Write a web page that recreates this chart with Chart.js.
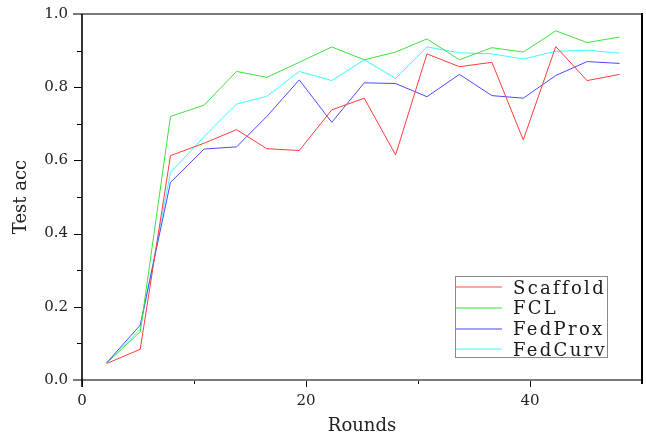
<!DOCTYPE html>
<html>
<head>
<meta charset="utf-8">
<script src="https://cdn.jsdelivr.net/npm/chart.js@4/dist/chart.umd.min.js"></script>
<style>
  html, body { margin: 0; padding: 0; background: #fff; }
  #wrap { position: relative; width: 646px; height: 435px; }
  #legend {
    position: absolute; left: 455px; top: 276px; width: 153px; height: 82px;
    border: 1.5px solid #8a8a8a; box-sizing: border-box; background: #fff;
    font-family: "DejaVu Serif", serif; font-size: 18px; letter-spacing: 2.3px; color: #1a1a1a;
  }
  .row { position: absolute; left: 0; height: 20px; display: flex; align-items: center; }
  .swatch { width: 46px; height: 2px; margin-right: 11px; }
</style>
</head>
<body>
<div id="wrap">
  <canvas id="c" width="646" height="435"></canvas>
  <div id="legend"></div>
</div>
<script>
// ---- data ----
const rounds   = [2.2, 5.2, 7.9, 10.9, 13.8, 16.5, 19.4, 22.3, 25.2, 28.0, 30.8, 33.7, 36.6, 39.4, 42.3, 45.1, 48.0];
const scaffold = [0.045, 0.084, 0.613, 0.647, 0.684, 0.632, 0.627, 0.738, 0.770, 0.615, 0.891, 0.856, 0.868, 0.656, 0.911, 0.818, 0.835];
const fcl      = [0.046, 0.132, 0.720, 0.751, 0.843, 0.827, 0.868, 0.910, 0.875, 0.896, 0.932, 0.875, 0.908, 0.896, 0.954, 0.922, 0.937];
const fedprox  = [0.047, 0.150, 0.540, 0.631, 0.637, 0.720, 0.820, 0.704, 0.812, 0.810, 0.774, 0.835, 0.777, 0.770, 0.832, 0.870, 0.865];
const fedcurv  = [0.046, 0.139, 0.567, 0.665, 0.754, 0.775, 0.843, 0.818, 0.875, 0.824, 0.910, 0.894, 0.891, 0.877, 0.898, 0.901, 0.893];
const seriesNames = ["Scaffold", "FCL", "FedProx", "FedCurv"];
const xTicks = [0, 20, 40];
const xMinorTicks = [10, 30];
const yTicks = [0, 0.2, 0.4, 0.6, 0.8, 1.0];
const yMinorTicks = [0.1, 0.3, 0.5, 0.7, 0.9];

const colors = ["#ff3c3c", "#3ee23e", "#4a4aff", "#3cffff"];
const legendColors = ["rgba(255,80,80,0.5)", "rgba(60,220,60,0.5)", "rgba(70,70,255,0.5)", "rgba(60,255,255,0.5)"];
const allSeries = [scaffold, fcl, fedprox, fedcurv];

const toPts = arr => arr.map((v, i) => ({ x: rounds[i], y: v }));

const framePlugin = {
  id: 'frame',
  afterDatasetsDraw(chart) {
    const { ctx, chartArea: a, scales } = chart;
    ctx.save();
    ctx.strokeStyle = '#000';
    ctx.lineWidth = 1;
    yTicks.forEach(v => {
      const y = Math.round(scales.y.getPixelForValue(v)) + 0.5;
      ctx.beginPath(); ctx.moveTo(a.left - 8, y); ctx.lineTo(a.left, y); ctx.stroke();
    });
    yMinorTicks.forEach(v => {
      const y = Math.round(scales.y.getPixelForValue(v)) + 0.5;
      ctx.beginPath(); ctx.moveTo(a.left - 5, y); ctx.lineTo(a.left, y); ctx.stroke();
    });
    xTicks.forEach(v => {
      const x = Math.round(scales.x.getPixelForValue(v)) + 0.5;
      ctx.beginPath(); ctx.moveTo(x, a.bottom); ctx.lineTo(x, a.bottom + 7); ctx.stroke();
    });
    xMinorTicks.forEach(v => {
      const x = Math.round(scales.x.getPixelForValue(v)) + 0.5;
      ctx.beginPath(); ctx.moveTo(x, a.bottom); ctx.lineTo(x, a.bottom + 4); ctx.stroke();
    });
    ctx.strokeStyle = '#7a7a7a';
    ctx.lineWidth = 2;
    ctx.beginPath(); ctx.moveTo(a.left - 9, a.top); ctx.lineTo(a.right + 1, a.top); ctx.stroke();
    ctx.beginPath(); ctx.moveTo(a.left - 9, a.bottom); ctx.lineTo(a.right + 1, a.bottom); ctx.stroke();
    ctx.strokeStyle = '#000';
    ctx.lineWidth = 1.6;
    ctx.beginPath(); ctx.moveTo(a.left, a.top); ctx.lineTo(a.left, a.bottom + 7); ctx.stroke();
    ctx.lineWidth = 2;
    ctx.beginPath(); ctx.moveTo(a.right, a.top - 1); ctx.lineTo(a.right, a.bottom + 4); ctx.stroke();
    ctx.restore();
  }
};

const chart = new Chart(document.getElementById('c'), {
  type: 'line',
  data: {
    datasets: allSeries.map((s, i) => ({
      label: seriesNames[i],
      data: toPts(s),
      borderColor: colors[i],
      backgroundColor: colors[i],
      borderWidth: 1,
      pointRadius: 0,
      tension: 0,
      fill: false
    }))
  },
  options: {
    responsive: false,
    animation: false,
    layout: { padding: { top: 14, right: 4, left: 0, bottom: 0 } },
    plugins: { legend: { display: false }, tooltip: { enabled: false } },
    scales: {
      x: {
        type: 'linear', min: 0, max: 50,
        grid: { display: false, drawTicks: false },
        border: { display: false },
        afterBuildTicks: s => { s.ticks = xTicks.map(v => ({ value: v })); },
        afterFit: s => { s.height = 55; s.paddingLeft = 0; s.paddingRight = 0; },
        ticks: { padding: 12, color: '#222', font: { family: 'DejaVu Serif', size: 15 }, maxRotation: 0 },
        title: { display: true, text: 'Rounds', color: '#222', font: { family: 'DejaVu Serif', size: 18, lineHeight: 1 }, padding: { top: 0, bottom: 0 } }
      },
      y: {
        type: 'linear', min: 0, max: 1,
        grid: { display: false, drawTicks: false },
        border: { display: false },
        afterBuildTicks: s => { s.ticks = yTicks.map(v => ({ value: v })); },
        afterFit: s => { s.width = 82; s.paddingTop = 0; s.paddingBottom = 0; },
        ticks: { padding: 14, color: '#222', font: { family: 'DejaVu Serif', size: 15 }, callback: v => Number(v).toFixed(1) },
        title: { display: true, text: 'Test acc', color: '#222', font: { family: 'DejaVu Serif', size: 18, lineHeight: 1 }, padding: { top: 12, bottom: 0 } }
      }
    }
  },
  plugins: [framePlugin]
});

const lg = document.getElementById('legend');
seriesNames.forEach((name, i) => {
  const row = document.createElement('div');
  row.className = 'row';
  row.style.top = (0 + i * 20.8) + 'px';
  const sw = document.createElement('div');
  sw.className = 'swatch';
  sw.style.background = legendColors[i];
  const tx = document.createElement('span');
  tx.textContent = name;
  row.appendChild(sw); row.appendChild(tx);
  lg.appendChild(row);
});
</script>
</body>
</html>
